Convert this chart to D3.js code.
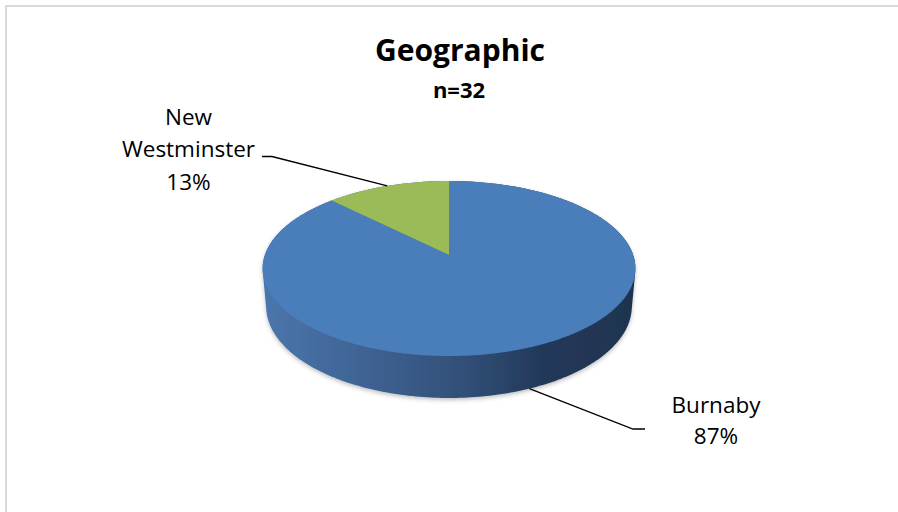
<!DOCTYPE html>
<html>
<head>
<meta charset="utf-8">
<script src="https://cdn.jsdelivr.net/npm/d3@7"></script>
<style>
  html, body { margin: 0; padding: 0; background: #fff; }
  svg { display: block; }
  text { font-family: "Open Sans", sans-serif; fill: #000; }
</style>
</head>
<body>
<svg id="chart" width="898" height="512"></svg>
<script>
// ---- data ----
const categories = ["Burnaby", "New Westminster"];
const counts = [28, 4];
const pctLabels = ["87%", "13%"];
const colors = ["#4A7EBB", "#9BBB59"];
const titleText = "Geographic";
const subtitleText = "n=32";

// ---- layout ----
const W = 898, H = 512;
const svg = d3.select("#chart");

// chart frame
svg.append("rect")
  .attr("x", 6).attr("y", 6).attr("width", W + 20).attr("height", H + 20)
  .attr("fill", "none").attr("stroke", "#d9d9d9").attr("stroke-width", 2);

// perspective projection of a unit disk (3D pie)
const cx = 449, cy = 255;
const tilt = Math.asin(0.464);
const sA = Math.sin(tilt), cA = Math.cos(tilt);
const D = 5.74, f = 1057, thick = 0.234;
function proj(t, Y, r = 1) {
  const X = r * Math.sin(t), Z = r * Math.cos(t);
  const zc = D + Z * cA - Y * sA;
  const yc = Y * cA + Z * sA;
  return [cx + f * X / zc, cy - f * yc / zc];
}

const pie = d3.pie().sort(null).value(d => d);
const arcs = pie(counts);

const defs = svg.append("defs");
const deg = d3.range(0, 361).map(d => d * Math.PI / 180);
const topRim = deg.map(t => proj(t, 0));
const botRim = deg.map(t => proj(t, -thick));
const hull = d3.polygonHull(topRim.concat(botRim));
const xs = hull.map(p => p[0]);
const x0 = d3.min(xs), x1 = d3.max(xs);

const grad = defs.append("linearGradient").attr("id", "sideGrad")
  .attr("gradientUnits", "userSpaceOnUse")
  .attr("x1", x0).attr("x2", x1).attr("y1", 0).attr("y2", 0);
[[0, "#4A76AD"], [0.3, "#3E6191"], [0.55, "#314E76"], [0.75, "#22395A"], [1, "#1F334F"]]
  .forEach(([o, c]) => grad.append("stop").attr("offset", o).attr("stop-color", c));

const shadow = defs.append("filter").attr("id", "shadow")
  .attr("x", "-10%").attr("y", "-10%").attr("width", "120%").attr("height", "130%");
shadow.append("feDropShadow").attr("dx", 0).attr("dy", 2).attr("stdDeviation", 2)
  .attr("flood-color", "#000").attr("flood-opacity", 0.25);

const line = d3.line();
// side of the cylinder
svg.append("path")
  .attr("d", line(hull) + "Z")
  .attr("fill", "url(#sideGrad)")
  .attr("filter", "url(#shadow)");

// top faces
arcs.forEach((a, i) => {
  const n = Math.max(2, Math.ceil((a.endAngle - a.startAngle) / (Math.PI / 360)));
  const pts = [proj(0, 0, 0)];
  for (let k = 0; k <= n; k++) {
    pts.push(proj(a.startAngle + (a.endAngle - a.startAngle) * k / n, 0));
  }
  svg.append("path").attr("d", line(pts) + "Z").attr("fill", colors[i]);
});

// title
svg.append("text").attr("x", 460).attr("y", 61).attr("text-anchor", "middle")
  .attr("font-size", 30).attr("font-weight", "bold").text(titleText);
svg.append("text").attr("x", 459).attr("y", 98).attr("text-anchor", "middle")
  .attr("font-size", 22).attr("font-weight", "bold").text(subtitleText);

// data labels with leader lines
const labelSpecs = [
  { lines: [categories[0], pctLabels[0]], x: 716, y: 413, dy: 30.5,
    elbow: [633, 429], end: [645, 429], Y: -thick },
  { lines: ["New", "Westminster", pctLabels[1]], x: 188.5, y: 124.5, dy: 32.5,
    elbow: [272, 156.5], end: [262, 156.5], Y: 0 }
];
labelSpecs.forEach((s, i) => {
  const a = arcs[i];
  const mid = (a.startAngle + a.endAngle) / 2;
  const anchor = proj(mid, s.Y);
  svg.append("path")
    .attr("d", line([anchor, s.elbow, s.end]))
    .attr("fill", "none").attr("stroke", "#000").attr("stroke-width", 1.3);
  const t = svg.append("text").attr("text-anchor", "middle").attr("font-size", 22.5);
  s.lines.forEach((l, k) => {
    t.append("tspan").attr("x", s.x).attr("y", s.y + k * s.dy).text(l);
  });
});
</script>
</body>
</html>
